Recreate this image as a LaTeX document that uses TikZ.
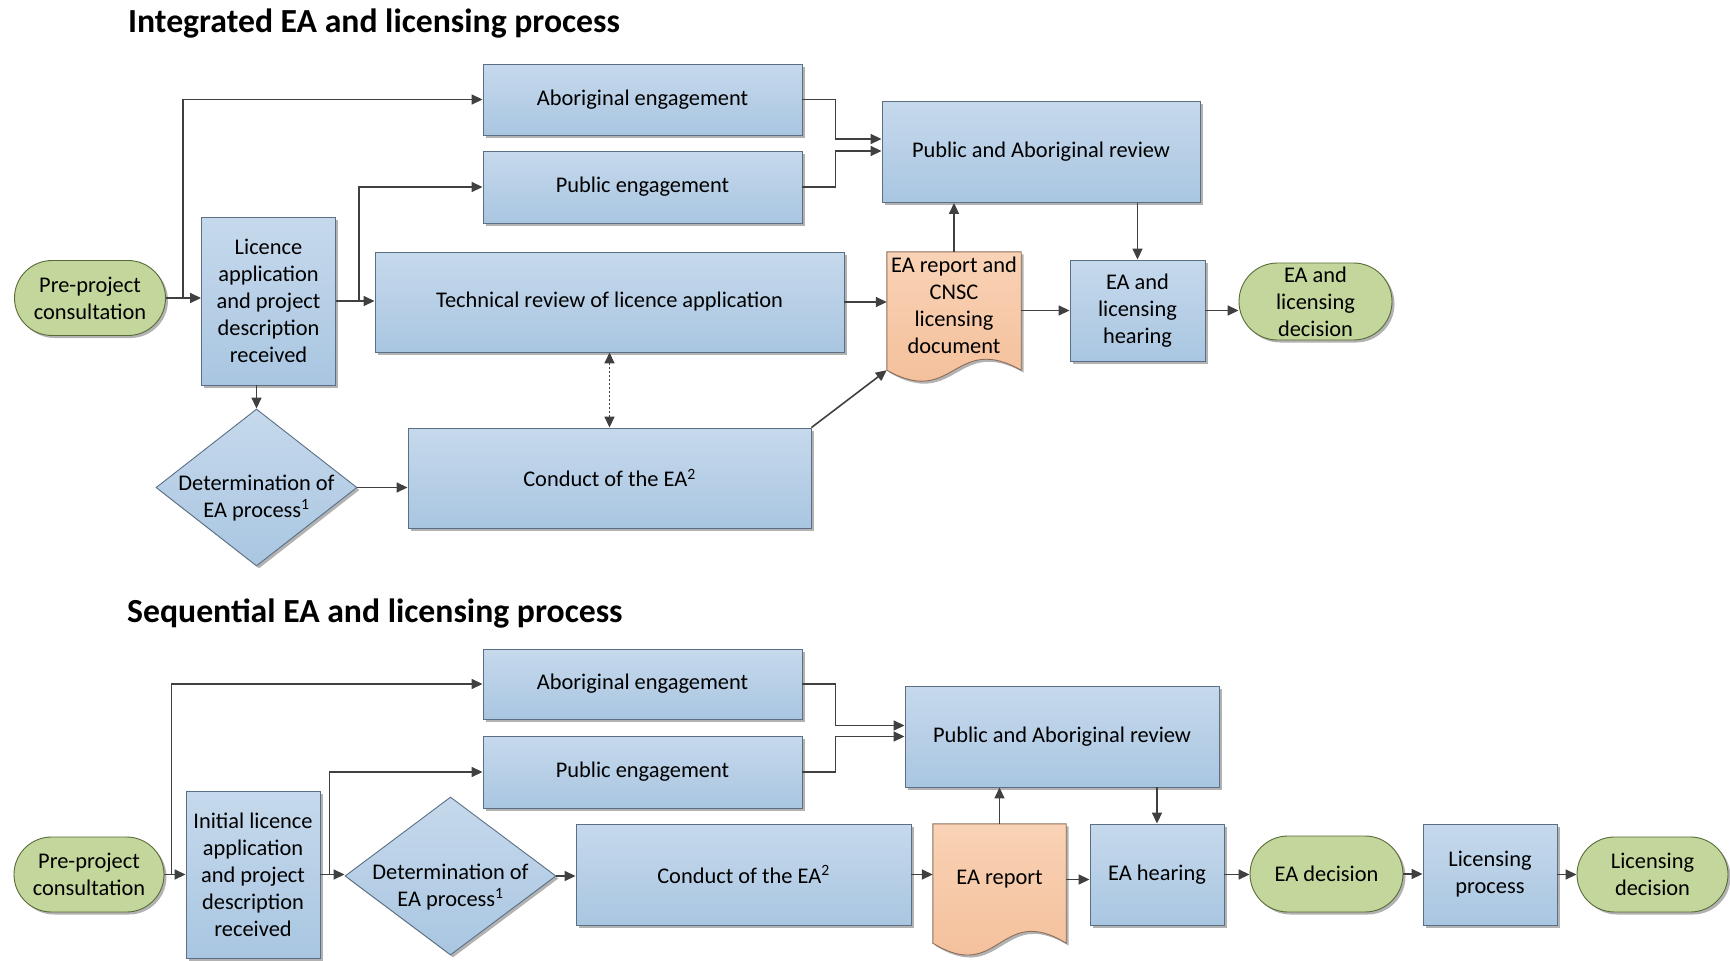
\documentclass[tikz,border=0pt]{standalone}
\usepackage{fontspec}
\setmainfont{Carlito}
\usetikzlibrary{arrows.meta,shapes.geometric,shapes.misc,shadows,calc}
\definecolor{bluetop}{HTML}{C6D9EC}
\definecolor{bluebot}{HTML}{A9C6E1}
\definecolor{blueline}{HTML}{5B6F84}
\definecolor{greenfill}{HTML}{C3D69B}
\definecolor{greenline}{HTML}{5A6B3A}
\definecolor{orangetop}{HTML}{F9D2B5}
\definecolor{orangebot}{HTML}{F3BD97}
\definecolor{orangeline}{HTML}{8C6E5A}
\definecolor{linegray}{HTML}{404040}
\begin{document}
\begin{tikzpicture}[x=1pt,y=-1pt,
  every node/.style={font=\fontsize{22.4}{27}\selectfont, inner sep=0pt, align=center},
  sz/.style 2 args={minimum width=#1pt, minimum height=#2pt},
  shad/.style={drop shadow={shadow xshift=2.5pt,shadow yshift=-2.5pt,opacity=0.3,fill=black}},
  bbox/.style={rectangle, draw=blueline, line width=0.9pt, top color=bluetop, bottom color=bluebot, shad},
  gbox/.style={rounded rectangle, draw=greenline, line width=0.9pt, fill=greenfill, shad},
  dbox/.style={diamond, draw=blueline, line width=0.9pt, top color=bluetop, bottom color=bluebot, shad},
  docshape/.style={draw=orangeline, line width=0.9pt, top color=orangetop, bottom color=orangebot, shad},
  ttl/.style={anchor=west, font=\fontsize{33.7}{40}\selectfont\bfseries},
  arr/.style={draw=linegray, line width=1.6pt, -{Triangle[length=11pt,width=10pt]}},
  darr/.style={draw=linegray, line width=1.6pt, dash pattern=on 2pt off 2pt,
     {Triangle[length=11pt,width=10pt]}-{Triangle[length=11pt,width=10pt]}}
]
\useasboundingbox (0,0) rectangle (1730,961);

% ---------------- Titles ----------------
\node[ttl] (t1) at (128,24) {Integrated EA and licensing process};
\node[ttl] (t2) at (127,614) {Sequential EA and licensing process};

% ---------------- Top diagram ----------------
\node[gbox, sz={151}{75}] (pre1) at (90,298) {Pre-project\\consultation};
\node[bbox, sz={134}{168}] (lic1) at (268.5,301) {Licence\\application\\and project\\description\\received};
\node[bbox, sz={319}{71}] (abo1) at (642.5,99.5) {Aboriginal engagement};
\node[bbox, sz={319}{72}] (pub1) at (642.5,187) {Public engagement};
\node[bbox, sz={469}{100}] (tech1) at (609.5,302) {Technical review of licence application};
\node[bbox, sz={318}{101}] (rev1) at (1041,152) {Public and Aboriginal review};
\node[sz={134}{118}] (rep1) at (954,311) {};
\path[docshape] (rep1.north west) -- (rep1.north east) -- (rep1.south east)
   .. controls ($(rep1.south)+(0,-38)$) and ($(rep1.south)+(0,38)$) .. (rep1.south west) -- cycle;
\node (rep1t) at (954,305) {EA report and\\CNSC\\licensing\\document};
\node[bbox, sz={135}{101}] (hear1) at (1137.5,310.5) {EA and\\licensing\\hearing};
\node[gbox, sz={153}{77}] (dec1) at (1315.5,301.5) {EA and\\licensing\\decision};
\node[dbox, sz={201}{157}] (det1) at (256.5,487.5) {};
\node (det1t) at (256.5,498) {Determination of\\EA process\textsuperscript{1}};
\node[bbox, sz={403}{100}] (con1) at (609.5,478) {Conduct of the EA\textsuperscript{2}};

\coordinate (b1) at ($(pre1.east)+(17,0)$);
\coordinate (b2) at ($(lic1.east)+(23,0)$);
\draw[arr] (pre1.east) -- (pre1.east -| lic1.west);
\draw[arr] (b1) |- (abo1.west);
\draw[arr] (lic1.east) -- (lic1.east -| tech1.west);
\draw[arr] (b2) |- (pub1.west);
\draw[arr] (lic1.south -| det1.north) -- (det1.north);
\draw[arr] (det1.east) -- (det1.east -| con1.west);
\draw[darr] (tech1.south) -- (con1.north);
\draw[arr] (con1.north east) -- (rep1.south west);
\draw[arr] (tech1.east) -- (tech1.east -| rep1.west);
\draw[arr] (abo1.east) -- ++(33,0) |- ([yshift=13pt]rev1.west);
\draw[arr] (pub1.east) -- ++(33,0) |- ([yshift=1pt]rev1.west);
\draw[arr] (rep1.north) -- (rep1.north |- rev1.south);
\draw[arr] (rev1.south -| hear1.north) -- (hear1.north);
\draw[arr] (rep1.east |- hear1.west) -- (hear1.west);
\draw[arr] (hear1.east) -- (hear1.east -| dec1.west);

% ---------------- Bottom diagram ----------------
\node[gbox, sz={150}{75}] (pre2) at (89,874.5) {Pre-project\\consultation};
\node[bbox, sz={134}{167}] (init2) at (253,874.5) {Initial licence\\application\\and project\\description\\received};
\node[bbox, sz={319}{70}] (abo2) at (642.5,684) {Aboriginal engagement};
\node[bbox, sz={319}{72}] (pub2) at (642.5,772) {Public engagement};
\node[bbox, sz={314}{101}] (rev2) at (1062,736.5) {Public and Aboriginal review};
\node[dbox, sz={211}{158}] (det2) at (450.5,876) {};
\node (det2t) at (450.5,887) {Determination of\\EA process\textsuperscript{1}};
\node[bbox, sz={335}{101}] (con2) at (743.5,874.5) {Conduct of the EA\textsuperscript{2}};
\node[sz={133}{119}] (rep2) at (999.5,883.5) {};
\path[docshape] (rep2.north west) -- (rep2.north east) -- (rep2.south east)
   .. controls ($(rep2.south)+(0,-41)$) and ($(rep2.south)+(0,41)$) .. (rep2.south west) -- cycle;
\node (rep2t) at (999.5,879) {EA report};
\node[bbox, sz={134}{101}] (hear2) at (1157,874.5) {EA hearing};
\node[gbox, sz={153}{76}] (edec2) at (1326.5,874) {EA decision};
\node[bbox, sz={134}{101}] (lp2) at (1490,874.5) {Licensing\\process};
\node[gbox, sz={151}{75}] (ldec2) at (1652.5,874.5) {Licensing\\decision};

\coordinate (b3) at ($(pre2.east)+(7,0)$);
\coordinate (b4) at ($(init2.east)+(9,0)$);
\draw[arr] (pre2.east) -- (pre2.east -| init2.west);
\draw[arr] (b3) |- (abo2.west);
\draw[arr] (init2.east) -- (init2.east -| det2.west);
\draw[arr] (b4) |- (pub2.west);
\draw[arr] (det2.east) -- (det2.east -| con2.west);
\draw[arr] (con2.east) -- (con2.east -| rep2.west);
\draw[arr] (abo2.east) -- ++(33,0) |- ([yshift=11pt]rev2.west);
\draw[arr] (pub2.east) -- ++(33,0) |- ([yshift=0pt]rev2.west);
\draw[arr] (rep2.north) -- (rep2.north |- rev2.south);
\draw[arr] (rev2.south -| hear2.north) -- (hear2.north);
\draw[arr] ([yshift=4pt]rep2.east) -- ([yshift=4pt]rep2.east -| hear2.west);
\draw[arr] (hear2.east) -- (hear2.east -| edec2.west);
\draw[arr] (edec2.east) -- (edec2.east -| lp2.west);
\draw[arr] (lp2.east) -- (lp2.east -| ldec2.west);
\end{tikzpicture}
\end{document}
